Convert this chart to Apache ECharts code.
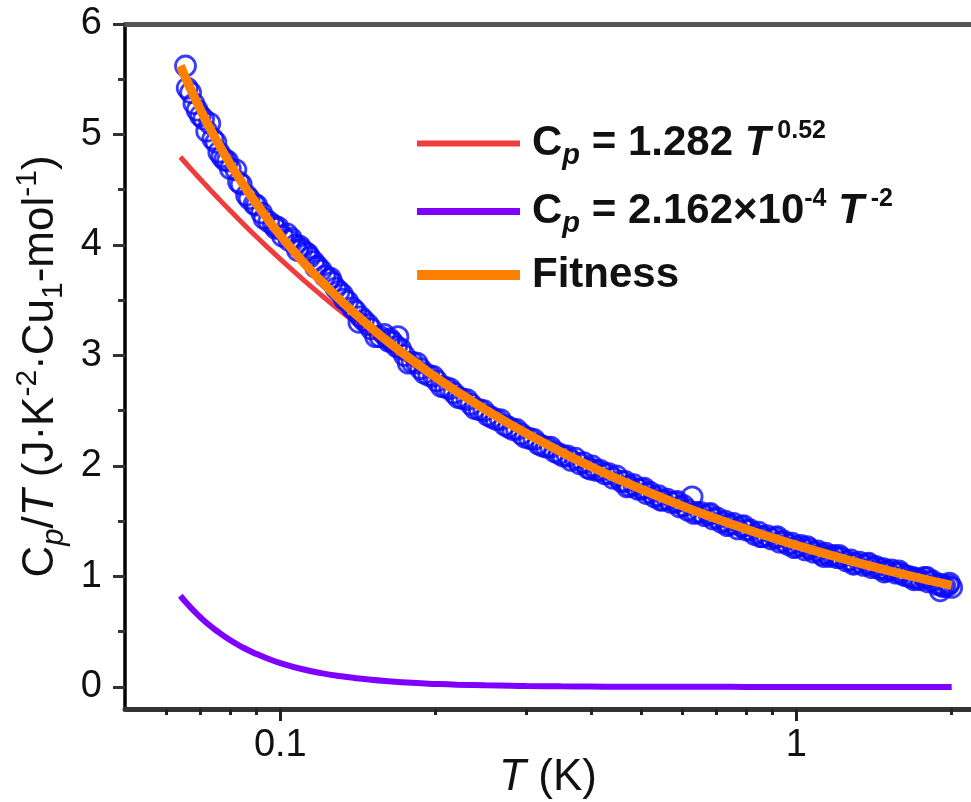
<!DOCTYPE html>
<html><head><meta charset="utf-8">
<script src="https://cdn.jsdelivr.net/npm/echarts@6/dist/echarts.min.js"></script>
<style>html,body{margin:0;padding:0;background:#fff}#c{width:971px;height:802px}</style>
</head><body><div id="c"></div>
<script>
// ---- data ----
const curveT = [0.064,0.066,0.068,0.07,0.072,0.075,0.08,0.085,0.09,0.095,0.1,0.11,0.12,0.13,0.14,0.15,0.16,0.18,0.2,0.22,0.25,0.28,0.3,0.35,0.4,0.45,0.5,0.6,0.7,0.8,0.9,1.0,1.2,1.4,1.6,1.8,2.0];
const curveRed = [4.796,4.726,4.659,4.595,4.533,4.445,4.309,4.186,4.072,3.968,3.872,3.698,3.547,3.413,3.294,3.187,3.089,2.920,2.776,2.652,2.494,2.362,2.285,2.122,1.990,1.881,1.788,1.638,1.521,1.427,1.349,1.282,1.175,1.091,1.023,0.967,0.919];
const curvePurple = [0.825,0.752,0.688,0.630,0.579,0.513,0.422,0.352,0.297,0.252,0.216,0.162,0.125,0.098,0.079,0.064,0.053,0.037,0.027,0.020,0.014,0.010,0.008,0.005,0.003,0.002,0.002,0.001,0.001,0,0,0,0,0,0,0,0];
const curveFit = [5.621,5.478,5.347,5.225,5.112,4.958,4.731,4.538,4.369,4.220,4.088,3.860,3.672,3.511,3.373,3.251,3.142,2.957,2.803,2.672,2.508,2.372,2.293,2.127,1.993,1.883,1.790,1.639,1.522,1.427,1.349,1.282,1.175,1.091,1.023,0.967,0.919];

const tempK = [0.0655,0.066,0.068,0.070,0.072,0.074,0.076,0.078,0.080,0.083,0.086,0.089,0.092,0.095,0.098,0.101,0.104,0.107,0.110,0.114,0.118,0.122,0.126,0.130,0.135,0.140,0.145,0.150,0.156,0.162,0.168,0.174,0.180,0.187,0.194,0.201,0.209,0.217,0.225,0.234,0.243,0.252,0.262,0.272,0.282,0.293,0.304,0.316,0.328,0.340,0.353,0.366,0.380,0.395,0.410,0.425,0.441,0.458,0.475,0.493,0.512,0.531,0.551,0.572,0.594,0.616,0.640,0.664,0.689,0.715,0.742,0.770,0.799,0.830,0.861,0.894,0.928,0.963,1.00,1.04,1.08,1.12,1.16,1.20,1.25,1.30,1.35,1.40,1.45,1.50,1.56,1.62,1.68,1.74,1.80,1.87,1.94,2.00,
  0.067,0.071,0.075,0.079,0.084,0.090,0.097,0.105,0.109,0.112,0.116,0.120,0.124,0.128,0.133,0.138,0.143,0.148,0.159,0.165,0.169,0.171,0.184,0.198,0.213,0.230,0.248,0.267,0.287,0.310,0.334,0.360,0.387,0.402,0.417,0.433,0.466,0.484,0.502,0.521,0.541,0.562,0.583,0.605,0.628,0.652,0.677,0.702,0.728,0.756,0.784,0.814,0.845,0.877,0.911,0.946,0.981,1.02,1.06,1.10,1.14,1.18,1.22,1.275,1.325,1.375,1.425,1.475,1.53,1.59,1.65,1.71,1.77,1.835,1.90,1.97,1.90,
  0.069,0.073,0.077,0.082,0.087,0.093,0.099,0.103,0.108,0.113,0.117,0.125,0.132,0.142,0.153,0.163,0.177,0.190,0.205,0.221,0.238,0.257,0.277,0.298,0.322,0.347,0.373,0.400,0.448,0.470,0.507,0.546,0.588,0.633,0.681,0.735,0.790,0.852,0.918,0.990,1.05,1.13,1.21,1.29,1.38,1.48,1.58,1.69,1.79,1.92,1.98];
const cpOverT = [5.62,5.42,5.28,5.17,5.03,4.96,4.84,4.77,4.69,4.57,4.45,4.37,4.29,4.21,4.15,4.08,4.04,4.00,3.96,3.89,3.81,3.72,3.66,3.58,3.49,3.40,3.32,3.24,3.17,3.13,3.08,3.00,2.94,2.88,2.82,2.77,2.71,2.66,2.61,2.56,2.51,2.46,2.42,2.37,2.33,2.29,2.25,2.20,2.17,2.13,2.09,2.05,2.02,1.98,1.96,1.93,1.89,1.86,1.82,1.79,1.75,1.72,1.69,1.67,1.63,1.60,1.58,1.55,1.52,1.49,1.47,1.43,1.42,1.38,1.36,1.34,1.31,1.29,1.27,1.24,1.22,1.20,1.18,1.17,1.14,1.12,1.10,1.08,1.07,1.05,1.03,1.01,0.99,0.97,0.95,0.93,0.91,0.90,
  5.38,5.14,4.93,4.76,4.55,4.36,4.18,4.06,3.99,3.93,3.85,3.77,3.69,3.61,3.51,3.43,3.35,3.28,3.19,3.12,3.17,3.06,2.93,2.81,2.70,2.60,2.50,2.42,2.33,2.24,2.17,2.09,2.03,2.00,1.96,1.93,1.86,1.83,1.79,1.76,1.73,1.70,1.67,1.64,1.72,1.58,1.56,1.53,1.50,1.48,1.45,1.42,1.40,1.37,1.35,1.32,1.30,1.28,1.25,1.23,1.21,1.19,1.17,1.15,1.13,1.11,1.09,1.07,1.06,1.03,1.00,0.98,0.99,0.96,0.93,0.92,0.87,
  5.22,5.10,4.80,4.68,4.42,4.24,4.16,4.10,3.95,3.92,3.80,3.70,3.55,3.30,3.17,3.15,2.93,2.84,2.72,2.62,2.52,2.44,2.35,2.26,2.18,2.11,2.07,1.97,1.91,1.81,1.80,1.69,1.68,1.57,1.57,1.46,1.46,1.36,1.36,1.26,1.27,1.18,1.19,1.11,1.12,1.04,1.05,0.97,0.99,0.91,0.94];

const xMajorTicks = [0.1, 1];
const xMinorTicks = [0.06,0.07,0.08,0.09,0.2,0.3,0.4,0.5,0.6,0.7,0.8,0.9,2];
const yMajorTicks = [0,1,2,3,4,5,6];
const yMinorTicks = [0.5,1.5,2.5,3.5,4.5,5.5];
const seriesNames = ['Cp = 1.282 T^0.52', 'Cp = 2.162×10^-4 T^-2', 'Fitness', 'Data'];
const legendText = {
  'Cp = 1.282 T^0.52': '{c|C}{sub|p}{t| = 1.282 }{it|T}{sup| 0.52}',
  'Cp = 2.162×10^-4 T^-2': '{c|C}{sub|p}{t| = 2.162×10}{sup|-4}{t| }{it|T}{sup| -2}',
  'Fitness': '{c|Fitness}'
};

// ---- chart ----
const FF = '"Liberation Sans", Arial, sans-serif';
const INK = '#111';
const legendRich = {
  c:   {fontFamily: FF, fontSize: 42, fontWeight: 'bold', color: INK, lineHeight: 50, padding: [0,0,0,7]},
  t:   {fontFamily: FF, fontSize: 42, fontWeight: 'bold', color: INK, lineHeight: 50},
  it:  {fontFamily: FF, fontSize: 42, fontWeight: 'bold', fontStyle: 'italic', color: INK, lineHeight: 50},
  sub: {fontFamily: FF, fontSize: 29, fontWeight: 'bold', fontStyle: 'italic', color: INK, lineHeight: 26, padding: [24,0,0,0]},
  sup: {fontFamily: FF, fontSize: 25, fontWeight: 'bold', color: INK, lineHeight: 26, padding: [0,0,24,0]}
};
const nameRich = {
  n:   {fontFamily: FF, fontSize: 44, color: INK, lineHeight: 52},
  it:  {fontFamily: FF, fontSize: 44, fontStyle: 'italic', color: INK, lineHeight: 52},
  sub: {fontFamily: FF, fontSize: 31, fontStyle: 'italic', color: INK, lineHeight: 26, padding: [26,0,0,0]},
  subn:{fontFamily: FF, fontSize: 30, color: INK, lineHeight: 26, padding: [26,0,0,0]},
  sup: {fontFamily: FF, fontSize: 30, color: INK, lineHeight: 26, padding: [0,0,26,0]}
};

function pairs(xs, ys) { return xs.map((x, i) => [x, ys[i]]); }
function legendRow(name, top, h) {
  return {
    data: [{name: name, icon: 'rect'}], left: 417, top: top, padding: 0,
    itemWidth: 103, itemHeight: h, selectedMode: false,
    formatter: n => legendText[n], textStyle: {rich: legendRich}
  };
}

const chart = echarts.init(document.getElementById('c'), null, {renderer: 'canvas'});
chart.setOption({
  backgroundColor: '#fff',
  animation: false,
  grid: {left: 125, right: 0, top: 24, bottom: 93, containLabel: false, outerBoundsMode: 'none'},
  legend: [
    legendRow(seriesNames[0], 117, 6),
    legendRow(seriesNames[1], 185, 7),
    legendRow(seriesNames[2], 254, 10)
  ],
  xAxis: [
    {
      type: 'log', logBase: 10, min: 0.05, max: 2.18, position: 'bottom',
      axisLine: {onZero: false, lineStyle: {color: '#333', width: 5}},
      axisTick: {customValues: xMajorTicks, length: 12, lineStyle: {color: '#222', width: 3}},
      axisLabel: {customValues: xMajorTicks, fontFamily: FF, fontSize: 38, color: INK, margin: 18,
        formatter: v => String(v)},
      splitLine: {show: false}, minorTick: {show: false},
      name: '{it|T}{n| (K)}', nameLocation: 'middle', nameGap: 43, nameMoveOverlap: false,
      nameTextStyle: {rich: nameRich}
    },
    {
      type: 'log', logBase: 10, min: 0.05, max: 2.18, position: 'bottom',
      axisLine: {show: false, onZero: false},
      axisTick: {customValues: xMinorTicks, length: 6, lineStyle: {color: '#222', width: 3}},
      axisLabel: {show: false}, splitLine: {show: false}
    },
    {
      type: 'log', logBase: 10, min: 0.05, max: 2.18, position: 'top',
      axisLine: {onZero: false, lineStyle: {color: '#555', width: 5}},
      axisTick: {show: false}, axisLabel: {show: false}, splitLine: {show: false}
    }
  ],
  yAxis: [
    {
      type: 'value', min: -0.2, max: 6, position: 'left',
      axisLine: {onZero: false, lineStyle: {color: '#000', width: 3.5}},
      axisTick: {customValues: yMajorTicks, length: 12, lineStyle: {color: '#333', width: 3}},
      axisLabel: {customValues: yMajorTicks, fontFamily: FF, fontSize: 38, color: INK, margin: 23,
        formatter: v => String(Math.round(v))},
      splitLine: {show: false},
      name: '{n|C}{sub|p}{n|/}{it|T}{n| (J·K}{sup|-2}{n|·Cu}{subn|1}{n|-mol}{sup|-1}{n|)}',
      nameLocation: 'middle', nameRotate: 90, nameGap: 58, nameMoveOverlap: false,
      nameTextStyle: {rich: nameRich}
    },
    {
      type: 'value', min: -0.2, max: 6, position: 'left',
      axisLine: {show: false, onZero: false},
      axisTick: {customValues: yMinorTicks, length: 7, lineStyle: {color: '#333', width: 3}},
      axisLabel: {show: false}, splitLine: {show: false}
    }
  ],
  series: [
    {
      name: seriesNames[0], type: 'line', data: pairs(curveT, curveRed), smooth: true,
      showSymbol: false, symbol: 'none', z: 2,
      lineStyle: {color: '#F03C3C', width: 5}, itemStyle: {color: '#F03C3C'}
    },
    {
      name: seriesNames[1], type: 'line', data: pairs(curveT, curvePurple), smooth: true,
      showSymbol: false, symbol: 'none', z: 2,
      lineStyle: {color: '#8000FF', width: 6}, itemStyle: {color: '#8000FF'}
    },
    {
      name: seriesNames[3], type: 'scatter', data: pairs(tempK, cpOverT), z: 3,
      symbol: 'circle', symbolSize: 20,
      itemStyle: {color: 'rgba(255,255,255,0)', borderColor: '#0A0AFF', borderWidth: 2.8}
    },
    {
      name: seriesNames[2], type: 'line', data: pairs(curveT, curveFit), smooth: true,
      showSymbol: false, symbol: 'none', z: 4,
      lineStyle: {color: '#FF8000', width: 9}, itemStyle: {color: '#FF8000'}
    }
  ]
});
</script>
</body></html>
